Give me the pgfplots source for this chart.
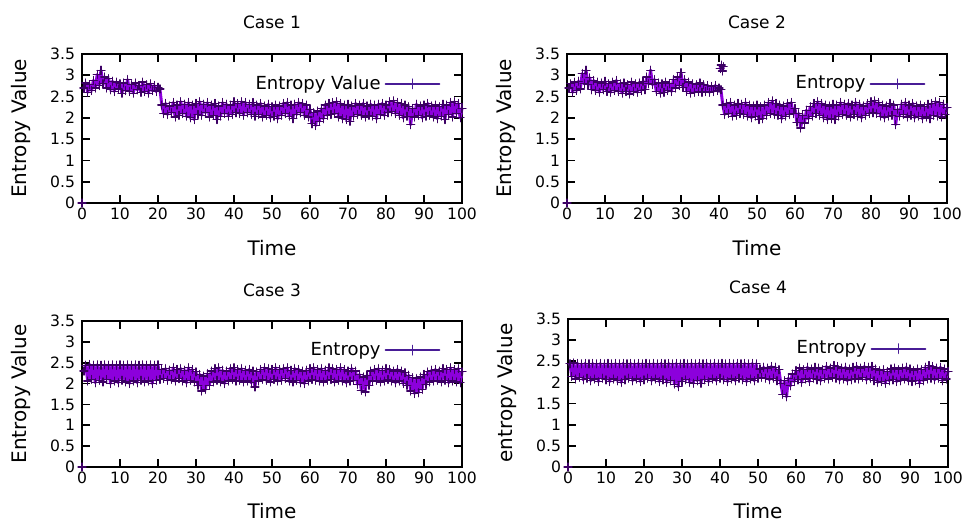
\documentclass[border=0pt]{standalone}
\usepackage{pgfplots}
\pgfplotsset{compat=1.18}
\usepackage{pgfplotstable}
\usepackage{fontspec}
\setmainfont{DejaVu Sans}

\definecolor{violetpt}{RGB}{140,0,220}
\definecolor{edgept}{RGB}{60,0,100}
\definecolor{legcol}{RGB}{72,28,150}

% x, then the entropy of case 1..4
\pgfplotstableread{
x a b c d
0.5 2.70 2.70 2.30 2.44
1 2.82 2.80 2.44 2.14
1.5 2.60 2.60 2.06 2.46
2 2.78 2.84 2.46 2.08
2.5 2.64 2.64 2.10 2.45
3 2.88 2.86 2.44 2.12
3.5 2.70 2.68 2.02 2.44
4 3.02 3.04 2.45 2.06
4.5 2.76 2.80 2.08 2.45
5 3.12 3.12 2.44 2.10
5.5 2.80 2.78 2.04 2.44
6 2.96 2.94 2.45 2.04
6.5 2.70 2.66 2.10 2.45
7 2.92 2.88 2.44 2.08
7.5 2.66 2.64 2.00 2.44
8 2.86 2.84 2.45 2.02
8.5 2.62 2.60 2.06 2.45
9 2.84 2.82 2.44 2.10
9.5 2.68 2.66 2.02 2.44
10 2.80 2.86 2.45 2.06
10.5 2.58 2.62 2.08 2.45
11 2.82 2.80 2.44 2.02
11.5 2.64 2.60 2.04 2.44
12 2.90 2.84 2.45 2.08
12.5 2.62 2.64 2.00 2.45
13 2.78 2.88 2.44 2.04
13.5 2.58 2.62 2.06 2.44
14 2.82 2.80 2.45 2.00
14.5 2.66 2.58 2.02 2.45
15 2.76 2.82 2.44 2.06
15.5 2.60 2.62 2.08 2.44
16 2.84 2.78 2.45 2.10
16.5 2.62 2.56 2.04 2.45
17 2.78 2.84 2.44 2.04
17.5 2.58 2.62 2.06 2.44
18 2.80 2.80 2.45 2.08
18.5 2.64 2.60 2.00 2.45
19 2.76 2.82 2.44 2.02
19.5 2.62 2.64 2.08 2.44
20 2.72 2.86 2.45 2.06
20.5 2.68 2.66 2.10 2.45
21 2.30 2.96 2.34 2.10
21.5 2.10 2.80 2.12 2.44
22 2.34 3.12 2.36 2.04
22.5 2.08 2.78 2.08 2.45
23 2.28 2.90 2.32 2.08
23.5 2.12 2.62 2.10 2.44
24 2.36 2.82 2.38 2.02
24.5 2.02 2.58 2.06 2.45
25 2.30 2.80 2.34 2.06
25.5 2.06 2.60 2.12 2.44
26 2.38 2.84 2.36 2.00
26.5 2.10 2.64 2.06 2.45
27 2.32 2.80 2.32 2.04
27.5 2.04 2.62 2.02 2.44
28 2.36 2.90 2.38 1.96
28.5 2.00 2.70 2.08 2.45
29 2.30 2.96 2.34 1.90
29.5 1.96 2.76 2.04 2.44
30 2.34 3.06 2.28 2.02
30.5 2.08 2.72 1.96 2.45
31 2.38 2.90 2.22 2.06
31.5 2.06 2.62 1.82 2.44
32 2.32 2.84 2.18 2.00
32.5 2.12 2.58 1.86 2.45
33 2.36 2.80 2.24 1.98
33.5 2.02 2.60 1.96 2.44
34 2.30 2.78 2.30 2.04
34.5 2.06 2.62 2.04 2.45
35 2.34 2.82 2.36 1.98
35.5 1.96 2.60 2.08 2.44
36 2.28 2.78 2.38 2.06
36.5 2.04 2.62 2.04 2.45
37 2.36 2.76 2.32 2.02
37.5 2.10 2.60 2.00 2.44
38 2.32 2.74 2.30 2.08
38.5 2.04 2.62 2.06 2.45
39 2.30 2.76 2.36 2.04
39.5 2.08 2.64 2.10 2.44
40 2.38 2.70 2.38 2.10
40.5 2.12 2.66 2.06 2.45
41 2.34 2.30 2.34 2.06
41.5 2.10 2.08 2.08 2.44
42 2.38 2.34 2.36 2.02
42.5 2.06 2.10 2.04 2.45
43 2.36 2.36 2.32 2.08
43.5 2.12 2.04 2.06 2.44
44 2.32 2.30 2.34 2.04
44.5 2.08 2.06 2.02 2.45
45 2.36 2.34 2.30 2.10
45.5 2.04 2.10 1.92 2.44
46 2.30 2.32 2.28 2.06
46.5 2.08 2.08 2.06 2.45
47 2.34 2.36 2.34 2.02
47.5 2.02 2.04 2.10 2.44
48 2.28 2.30 2.38 2.08
48.5 2.06 2.00 2.08 2.45
49 2.32 2.28 2.36 2.04
49.5 2.00 2.04 2.04 2.44
50 2.26 2.30 2.34 2.10
50.5 2.04 1.96 2.10 2.32
51 2.30 2.26 2.38 2.12
51.5 1.98 1.98 2.06 2.36
52 2.28 2.30 2.34 2.10
52.5 2.06 2.06 2.08 2.34
53 2.34 2.36 2.36 2.06
53.5 2.10 2.10 2.12 2.38
54 2.36 2.40 2.38 2.10
54.5 2.04 2.08 2.06 2.36
55 2.30 2.34 2.32 2.04
55.5 1.98 2.06 2.04 2.30
56 2.32 2.30 2.36 1.98
56.5 2.08 1.98 2.08 1.72
57 2.36 2.28 2.34 2.04
57.5 2.12 2.04 2.02 1.66
58 2.34 2.34 2.30 2.10
58.5 2.06 2.08 2.00 1.92
59 2.30 2.36 2.32 2.20
59.5 2.02 2.10 2.06 2.02
60 2.20 2.22 2.36 2.28
60.5 1.86 1.90 2.10 2.06
61 2.12 2.10 2.38 2.34
61.5 1.82 1.76 2.08 2.00
62 2.16 2.06 2.34 2.30
62.5 1.92 1.88 2.06 2.08
63 2.22 2.18 2.36 2.36
63.5 1.98 1.98 2.04 2.02
64 2.30 2.26 2.32 2.32
64.5 2.06 2.04 2.08 2.10
65 2.34 2.34 2.38 2.36
65.5 2.08 2.10 2.10 2.06
66 2.36 2.38 2.36 2.34
66.5 2.10 2.06 2.04 2.04
67 2.38 2.34 2.34 2.30
67.5 2.02 2.00 2.08 2.10
68 2.34 2.30 2.38 2.38
68.5 1.98 1.96 2.06 2.08
69 2.30 2.28 2.34 2.34
69.5 1.96 1.98 2.02 2.12
70 2.32 2.32 2.30 2.40
70.5 1.92 1.96 2.06 2.10
71 2.28 2.30 2.36 2.38
71.5 2.04 2.04 2.08 2.06
72 2.34 2.36 2.30 2.34
72.5 2.08 2.08 1.98 2.08
73 2.30 2.32 2.22 2.36
73.5 2.06 2.06 1.84 2.04
74 2.34 2.34 2.16 2.32
74.5 2.02 2.02 1.80 2.06
75 2.28 2.30 2.20 2.36
75.5 2.06 2.08 1.96 2.10
76 2.32 2.36 2.30 2.38
76.5 2.04 2.04 2.06 2.08
77 2.30 2.32 2.34 2.34
77.5 1.98 2.00 2.08 2.12
78 2.32 2.28 2.36 2.38
78.5 2.08 2.06 2.04 2.06
79 2.34 2.34 2.32 2.36
79.5 2.06 2.10 2.06 2.10
80 2.30 2.38 2.36 2.38
80.5 2.12 2.12 2.10 2.04
81 2.38 2.40 2.34 2.32
81.5 2.14 2.10 2.06 2.00
82 2.40 2.36 2.30 2.28
82.5 2.10 2.04 2.02 2.02
83 2.36 2.30 2.34 2.30
83.5 2.06 2.00 2.06 1.98
84 2.34 2.28 2.30 2.26
84.5 2.00 2.04 2.00 2.04
85 2.30 2.34 2.26 2.32
85.5 2.04 2.06 1.96 2.06
86 2.26 2.30 2.20 2.34
86.5 1.84 1.84 1.82 2.02
87 2.22 2.20 2.14 2.30
87.5 2.02 2.04 1.76 2.04
88 2.32 2.32 2.12 2.34
88.5 2.06 2.08 1.78 2.08
89 2.28 2.36 2.16 2.36
89.5 2.00 2.02 1.86 2.04
90 2.30 2.30 2.22 2.32
90.5 2.04 2.06 1.98 2.02
91 2.34 2.34 2.28 2.28
91.5 2.06 2.00 2.04 2.04
92 2.28 2.28 2.32 2.32
92.5 2.02 2.04 2.06 1.98
93 2.30 2.30 2.34 2.30
93.5 1.98 1.98 2.08 2.04
94 2.26 2.26 2.30 2.36
94.5 2.04 2.02 2.04 2.08
95 2.32 2.32 2.36 2.40
95.5 1.96 1.98 2.08 2.10
96 2.30 2.34 2.34 2.38
96.5 2.08 2.06 2.02 2.06
97 2.36 2.38 2.38 2.34
97.5 2.02 2.04 2.06 2.10
98 2.38 2.36 2.34 2.36
98.5 2.10 2.02 2.04 2.04
99 2.34 2.32 2.36 2.32
99.5 2.00 2.08 2.02 2.08
100 2.22 2.24 2.28 2.26
}\entropy

\pgfplotsset{
  case/.style={
    scale only axis, width=190pt, height=74.5pt,
    xmin=0, xmax=100, ymin=0, ymax=3.5,
    xtick={0,10,...,100}, ytick={0,0.5,1,1.5,2,2.5,3,3.5},
    tick align=inside, tick pos=both, major tick length=4pt,
    axis line style={line width=0.8pt},
    every tick/.style={black, line width=0.8pt},
    /pgf/number format/assume math mode=true,
    tick label style={font=\fontsize{7.8}{9}\selectfont},
    xticklabel style={yshift=1pt},
    label style={font=\fontsize{10}{12}\selectfont},
    title style={font=\fontsize{8.5}{10}\selectfont, at={(axis description cs:0.5,1.13)}, anchor=center},
    xlabel={Time},
    xlabel style={at={(axis description cs:0.5,-0.30)}, anchor=center},
    ylabel style={at={(axis description cs:-0.16,0.5)}, anchor=center},
    clip=false,
    legend style={draw=none, fill=none, font=\fontsize{9}{11}\selectfont,
      at={(axis description cs:0.96,0.80)}, anchor=east},
    legend plot pos=right, legend cell align=right,
    legend image code/.code={
      \draw[legcol, line width=0.9pt] (0pt,0pt) -- (27pt,0pt);
      \draw[legcol, line width=0.9pt] (13.5pt,-2.3pt) -- (13.5pt,2.3pt);
    },
  },
  over/.style={violetpt, line width=1.5pt, line join=round, line cap=round,
    mark=+, mark size=2pt, mark options={edgept, line width=0.6pt}},
}

\begin{document}
\begin{tikzpicture}
\useasboundingbox (0,0) rectangle (490pt,260.5pt);

\begin{axis}[case, at={(41pt,159pt)}, anchor=south west,
  title={Case 1}, ylabel={Entropy Value}]
\addplot[over] table[x=x, y=a] {\entropy};
\addlegendentry{Entropy Value}
\addplot[over, only marks, forget plot] coordinates {(0,0)};
\end{axis}

\begin{axis}[case, at={(283.5pt,159pt)}, anchor=south west,
  title={Case 2}, ylabel={Entropy Value}]
\addplot[over] table[x=x, y=b] {\entropy};
\addlegendentry{Entropy}
\addplot[over, forget plot] coordinates {(40.3,3.16) (40.6,3.24) (40.9,3.10) (41.1,3.20)};
\addplot[over, only marks, forget plot] coordinates {(0,0)};
\end{axis}

\begin{axis}[case, at={(41pt,27pt)}, anchor=south west, height=73pt,
  title={Case 3}, ylabel={Entropy Value}]
\addplot[over] table[x=x, y=c] {\entropy};
\addlegendentry{Entropy}
\addplot[over, only marks, forget plot] coordinates {(0,0)};
\end{axis}

\begin{axis}[case, at={(284pt,27pt)}, anchor=south west, height=74pt,
  title={Case 4}, ylabel={entropy Value}]
\addplot[over] table[x=x, y=d] {\entropy};
\addlegendentry{Entropy}
\addplot[over, only marks, forget plot] coordinates {(0,0)};
\end{axis}
\end{tikzpicture}
\end{document}
